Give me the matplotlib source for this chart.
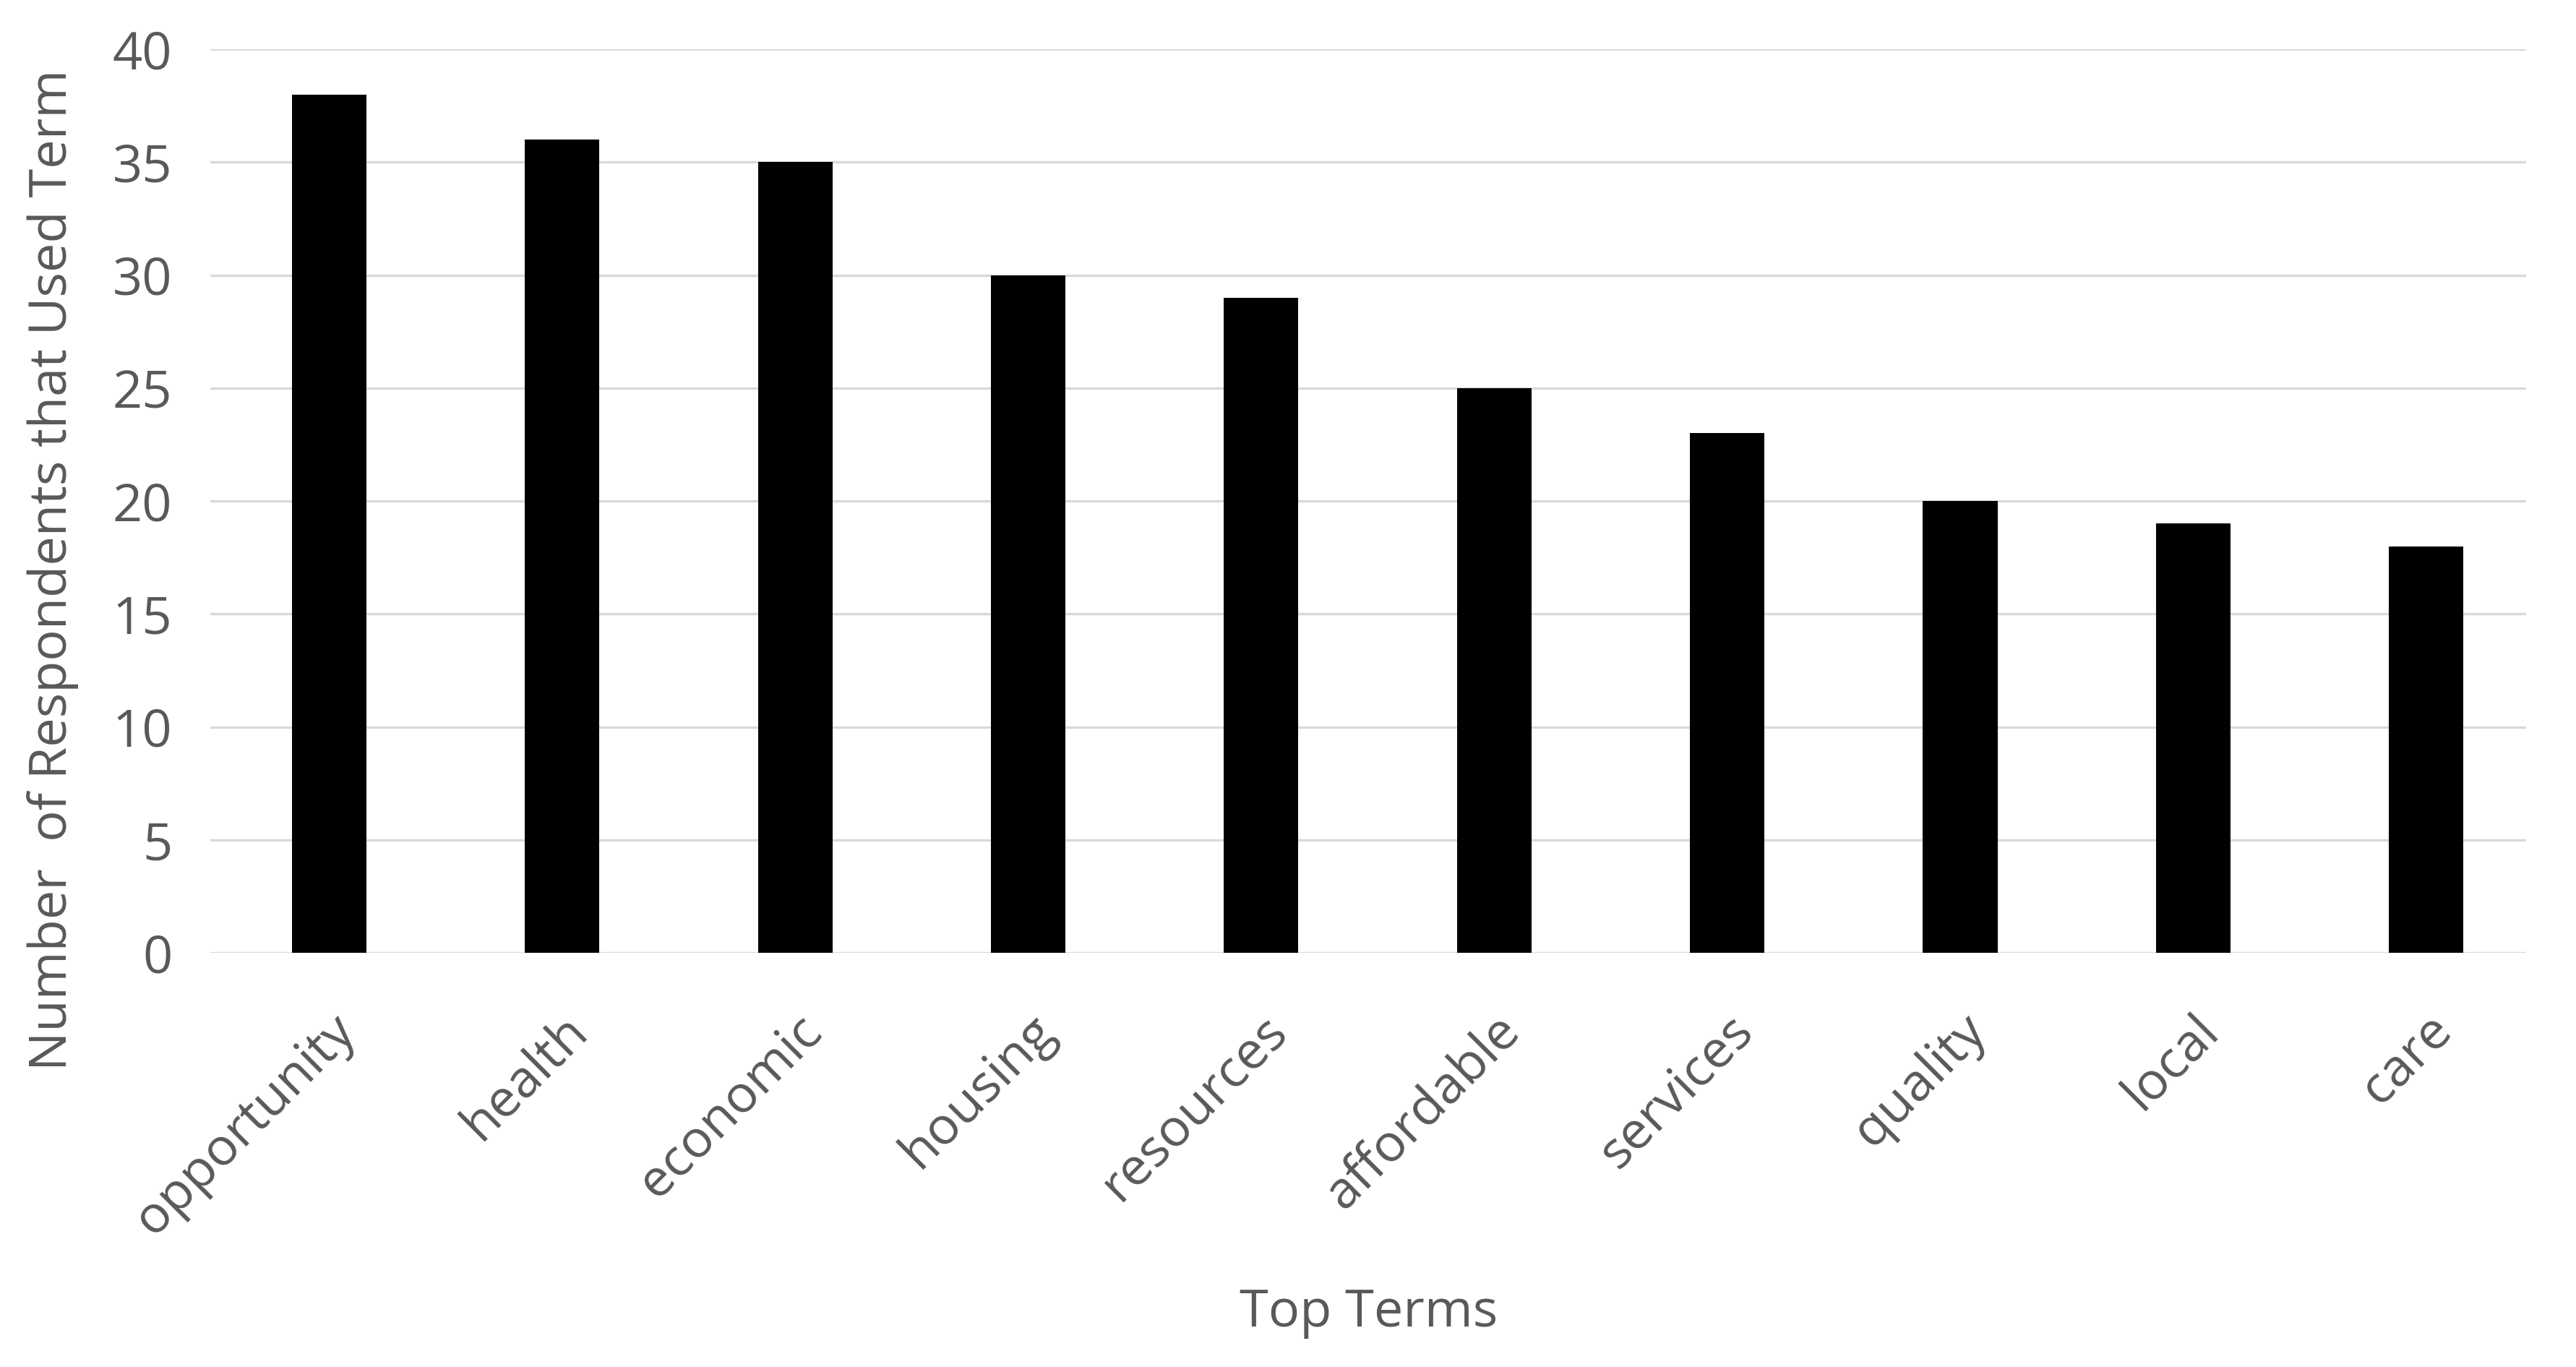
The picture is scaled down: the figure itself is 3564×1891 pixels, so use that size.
import matplotlib.pyplot as plt
import numpy as np

# top terms and how many respondents used each
terms = ["opportunity", "health", "economic", "housing", "resources",
         "affordable", "services", "quality", "local", "care"]
counts = [38, 36, 35, 30, 29, 25, 23, 20, 19, 18]

TEXT = "#595959"
GRID = "#d9d9d9"
FS = 52

plt.rcParams["font.family"] = ["Open Sans", "DejaVu Sans"]

fig = plt.figure(figsize=(35.64, 18.91), dpi=100)
ax = fig.add_axes([0.0817, 0.303, 0.899, 0.661])

x = np.arange(len(terms))
ax.bar(x, counts, width=0.32, color="black", zorder=3)

ax.set_xlim(-0.51, len(terms) - 0.57)
ax.set_ylim(0, 40)
ax.set_yticks(range(0, 41, 5))
ax.yaxis.grid(True, color=GRID, linewidth=2.4, zorder=0)
ax.set_axisbelow(True)
for s in ax.spines.values():
    s.set_visible(False)

ax.tick_params(axis="both", length=0, labelsize=FS, labelcolor=TEXT)
ax.tick_params(axis="y", pad=38)
ax.set_xticks(x)
ax.set_xticklabels(terms, rotation=45, ha="right", rotation_mode="anchor")
ax.tick_params(axis="x", pad=52)

ax.set_ylabel("Number  of Respondents that Used Term", fontsize=FS, color=TEXT)
ax.yaxis.set_label_coords(-0.057, 0.424)
ax.set_xlabel("Top Terms", fontsize=FS, color=TEXT)
ax.xaxis.set_label_coords(0.5, -0.37)

fig.savefig("out.png", dpi=100)
